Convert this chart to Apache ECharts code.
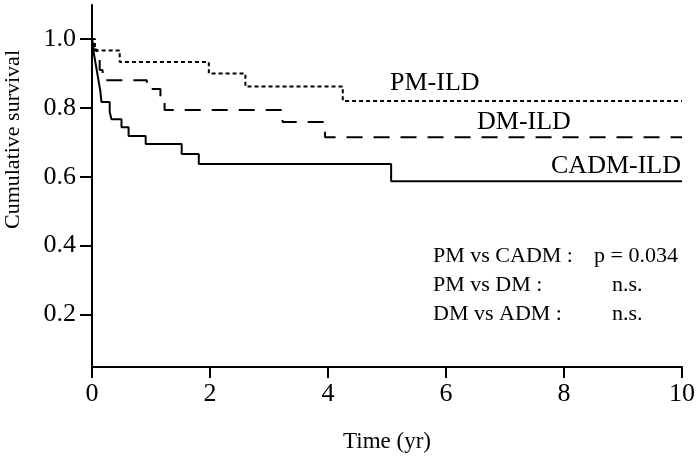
<!DOCTYPE html>
<html>
<head>
<meta charset="utf-8">
<title>Cumulative survival</title>
<script src="https://cdn.jsdelivr.net/npm/echarts@6/dist/echarts.min.js"></script>
<style>
  html, body { margin: 0; padding: 0; background: #fff; }
  #chart { width: 700px; height: 459px; }
</style>
</head>
<body>
<div id="chart"></div>
<script>
// Kaplan-Meier steps (time in years, survival)
var pmTime = [0, 0.05, 0.47, 1.98, 2.6, 4.25, 10];
var pmSurv = [1, 0.967, 0.933, 0.9, 0.862, 0.82, 0.82];

var dmTime = [0, 0.03, 0.08, 0.13, 0.18, 0.93, 1.16, 1.23, 3.23, 3.95, 10];
var dmSurv = [1, 0.97, 0.94, 0.91, 0.88, 0.855, 0.826, 0.794, 0.759, 0.715, 0.715];

var cadmTime = [0, 0.02, 0.05, 0.08, 0.11, 0.14, 0.16, 0.3, 0.33, 0.5, 0.62, 0.91, 1.52, 1.81, 5.07, 10];
var cadmSurv = [1, 0.97, 0.94, 0.91, 0.88, 0.85, 0.817, 0.788, 0.767, 0.744, 0.718, 0.695, 0.666, 0.637, 0.587, 0.587];

var xTicks = [0, 2, 4, 6, 8, 10];
var yTicks = [0.2, 0.4, 0.6, 0.8, 1.0];

var seriesNames = ['PM-ILD', 'DM-ILD', 'CADM-ILD'];
var statLabels = ['PM vs CADM :', 'PM vs DM :', 'DM vs ADM :'];
var statValues = ['p = 0.034', 'n.s.', 'n.s.'];

function pairs(t, s) {
    return t.map(function (v, i) { return [v, s[i]]; });
}

var font = '"Liberation Serif", "DejaVu Serif", serif';

var chart = echarts.init(document.getElementById('chart'));

var graphics = [
    {
        type: 'text', left: 2, top: 50, rotation: Math.PI / 2,
        style: { text: 'Cumulative survival', font: '22px ' + font, fill: '#000' }
    },
    { type: 'text', x: 390, y: 83, style: { text: seriesNames[0], font: '26px ' + font, fill: '#000', verticalAlign: 'middle' } },
    { type: 'text', x: 477, y: 122, style: { text: seriesNames[1], font: '26px ' + font, fill: '#000', verticalAlign: 'middle' } },
    { type: 'text', x: 681, y: 166, style: { text: seriesNames[2], font: '26px ' + font, fill: '#000', align: 'right', verticalAlign: 'middle' } }
];
var valueX = [594, 612, 612];
statLabels.forEach(function (lab, i) {
    graphics.push({ type: 'text', x: 433, y: 256 + i * 29, style: { text: lab, font: '22px ' + font, fill: '#000', verticalAlign: 'middle' } });
    graphics.push({ type: 'text', x: valueX[i], y: 256 + i * 29, style: { text: statValues[i], font: '22px ' + font, fill: '#000', verticalAlign: 'middle' } });
});

chart.setOption({
    animation: false,
    backgroundColor: '#fff',
    grid: { left: 92, right: 18, top: 5, bottom: 92 },
    xAxis: {
        type: 'value',
        min: 0,
        max: 10,
        interval: 2,
        name: 'Time (yr)',
        nameLocation: 'middle',
        nameGap: 63,
        nameTextStyle: { fontFamily: font, fontSize: 23, color: '#000' },
        axisLine: { lineStyle: { color: '#000', width: 2 } },
        axisTick: { length: 11, lineStyle: { color: '#000', width: 2 }, customValues: xTicks },
        axisLabel: { fontFamily: font, fontSize: 26, color: '#000', margin: 14, customValues: xTicks },
        splitLine: { show: false }
    },
    yAxis: {
        type: 'value',
        min: 0.047,
        max: 1.099,
        axisLine: { show: true, lineStyle: { color: '#000', width: 2 } },
        axisTick: { show: true, length: 12, lineStyle: { color: '#000', width: 2 }, customValues: yTicks },
        axisLabel: {
            fontFamily: font, fontSize: 26, color: '#000', margin: 16,
            customValues: yTicks,
            formatter: function (v) { return v.toFixed(1); }
        },
        splitLine: { show: false }
    },
    graphic: graphics,
    series: [
        {
            name: seriesNames[0], type: 'line', step: 'end', symbol: 'none',
            data: pairs(pmTime, pmSurv),
            lineStyle: { color: '#000', width: 2, type: [4, 3] }
        },
        {
            name: seriesNames[1], type: 'line', step: 'end', symbol: 'none',
            data: pairs(dmTime, dmSurv),
            lineStyle: { color: '#000', width: 2, type: [16, 11] }
        },
        {
            name: seriesNames[2], type: 'line', step: 'end', symbol: 'none',
            data: pairs(cadmTime, cadmSurv),
            lineStyle: { color: '#000', width: 2, type: 'solid' }
        }
    ]
});
</script>
</body>
</html>
